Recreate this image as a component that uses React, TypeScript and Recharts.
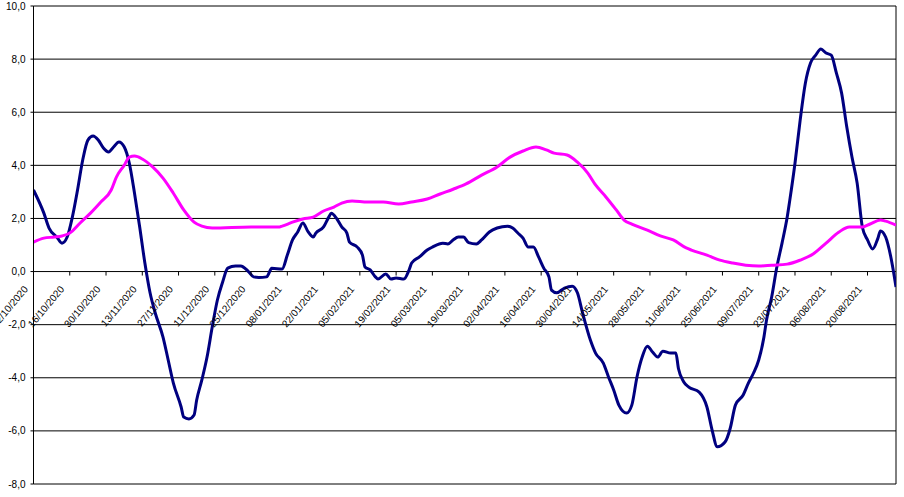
import { LineChart, Line, XAxis, YAxis, CartesianGrid, ReferenceLine } from 'recharts';

// x positions are day offsets from 02/10/2020
const TICK_DAYS = [0, 14, 28, 42, 56, 70, 84, 98, 112, 126, 140, 154, 168, 182, 196, 210, 224, 238, 252, 266, 280, 294, 308, 322];
const TICK_LABELS = [
  '02/10/2020', '16/10/2020', '30/10/2020', '13/11/2020', '27/11/2020', '11/12/2020',
  '25/12/2020', '08/01/2021', '22/01/2021', '05/02/2021', '19/02/2021', '05/03/2021',
  '19/03/2021', '02/04/2021', '16/04/2021', '30/04/2021', '14/05/2021', '28/05/2021',
  '11/06/2021', '25/06/2021', '09/07/2021', '23/07/2021', '06/08/2021', '20/08/2021',
];
const Y_TICKS = [-8, -6, -4, -2, 0, 2, 4, 6, 8, 10];

const NAVY_DAYS = [
  0, 4, 6, 9, 11, 13, 15, 17, 19, 21, 23, 25, 27, 29, 31, 33, 35, 37, 39, 41,
  43, 45, 47, 50, 52, 54, 57, 58, 60, 62, 63, 65, 67, 69, 71, 73, 75, 78, 80, 83,
  85, 87, 90, 92, 96, 98, 100, 102, 104, 106, 108, 109, 112, 114, 115, 117, 119, 121, 122, 125,
  127, 128, 130, 132, 133, 136, 138, 140, 143, 145, 146, 149, 152, 154, 158, 160, 162, 164, 166, 168,
  171, 173, 176, 179, 183, 185, 187, 189, 191, 193, 195, 197, 199, 200, 202, 205, 208, 210, 212, 215,
  217, 220, 222, 224, 226, 229, 231, 233, 235, 237, 239, 241, 243, 246, 248, 249, 251, 253, 257, 260,
  262, 264, 267, 269, 271, 274, 276, 278, 280, 282, 283, 285, 287, 289, 291, 292, 294, 296, 298, 300,
  302, 304, 306, 308, 310, 312, 314, 316, 318, 320, 322, 324, 326, 327, 329, 331, 333,
];
const NAVY_VALUES = [
  3.07, 2.2, 1.64, 1.3, 1.07, 1.3, 2.05, 3.07, 4.2, 4.95, 5.1, 4.95, 4.65, 4.5, 4.7, 4.88, 4.7, 4.08, 2.95, 1.68,
  0.32, -0.8, -1.56, -2.47, -3.33, -4.2, -5.1, -5.48, -5.55, -5.4, -4.84, -4.08, -3.22, -2.09, -1.07, -0.4, 0.13, 0.21, 0.21, 0.0,
  -0.2, -0.22, -0.2, 0.12, 0.1, 0.62, 1.19, 1.49, 1.83, 1.5, 1.3, 1.45, 1.68, 2.05, 2.2, 2.0, 1.68, 1.45, 1.11, 0.92,
  0.62, 0.17, 0.06, -0.2, -0.28, -0.09, -0.28, -0.24, -0.28, 0.06, 0.32, 0.55, 0.81, 0.92, 1.07, 1.04, 1.19, 1.3, 1.3, 1.09,
  1.04, 1.19, 1.49, 1.64, 1.71, 1.64, 1.45, 1.26, 0.92, 0.92, 0.55, 0.13, -0.2, -0.7, -0.8, -0.62, -0.55, -0.8, -1.56, -2.58,
  -3.07, -3.45, -3.97, -4.46, -5.03, -5.33, -5.03, -3.97, -3.22, -2.81, -3.03, -3.22, -3.0, -3.07, -3.07, -3.65, -4.15, -4.35, -4.54, -5.1,
  -5.97, -6.6, -6.42, -5.9, -5.03, -4.65, -4.2, -3.82, -3.33, -2.47, -1.83, -0.96, 0.17, 1.07, 2.05, 2.69, 4.08, 5.7, 7.09, 7.85,
  8.15, 8.38, 8.23, 8.15, 7.47, 6.72, 5.44, 4.31, 3.33, 1.68, 1.19, 0.85, 1.25, 1.53, 1.3, 0.55, -0.58,
];

const PINK_DAYS = [
  0, 4, 8, 11, 14, 18, 22, 26, 30, 32, 35, 37, 39, 42, 46, 50, 54, 58, 62, 65,
  69, 84, 95, 96, 100, 104, 108, 112, 116, 119, 123, 129, 135, 141, 146, 152, 157, 162, 167, 173,
  179, 184, 189, 194, 198, 201, 206, 210, 214, 217, 221, 225, 228, 231, 237, 242, 247, 252, 254, 260,
  265, 270, 275, 280, 285, 291, 296, 301, 306, 311, 315, 320, 323, 327, 329, 333,
];
const PINK_VALUES = [
  1.11, 1.26, 1.3, 1.34, 1.45, 1.83, 2.2, 2.62, 3.07, 3.56, 4.0, 4.31, 4.35, 4.24, 3.94, 3.52, 2.95, 2.32, 1.86, 1.71,
  1.64, 1.68, 1.68, 1.71, 1.86, 1.98, 2.05, 2.28, 2.43, 2.58, 2.66, 2.62, 2.62, 2.54, 2.62, 2.73, 2.92, 3.1, 3.3, 3.63,
  3.94, 4.31, 4.54, 4.69, 4.58, 4.46, 4.39, 4.12, 3.71, 3.26, 2.81, 2.32, 1.94, 1.79, 1.56, 1.34, 1.19, 0.89, 0.81, 0.62,
  0.43, 0.32, 0.24, 0.21, 0.24, 0.28, 0.43, 0.66, 1.07, 1.49, 1.68, 1.68, 1.79, 1.94, 1.9, 1.75,
];

const navyData = NAVY_DAYS.map((day, i) => ({ day, value: NAVY_VALUES[i] }));
const pinkData = PINK_DAYS.map((day, i) => ({ day, value: PINK_VALUES[i] }));

const W = 904;
const H = 497;
const MARGIN = { top: 6, right: 8, bottom: 0, left: 0 };
const Y_AXIS_W = 33.5;
const X_AXIS_H = 13;
const Y_MIN = -8;
const Y_MAX = 10;
const PLOT_H = H - MARGIN.top - MARGIN.bottom - X_AXIS_H;
// the category axis crosses at 0, so tick labels sit under the zero line
const ZERO_Y = MARGIN.top + (PLOT_H * Y_MAX) / (Y_MAX - Y_MIN);
const FONT = '"Liberation Sans", Arial, sans-serif';

const fmtY = (v: number) => v.toFixed(1).replace('.', ',');

function DateTick(props: any) {
  const { x, payload } = props;
  const label = TICK_LABELS[TICK_DAYS.indexOf(payload.value)];
  const tx = x - 5;
  const ty = ZERO_Y + 18;
  return (
    <g>
      <line x1={x} x2={x} y1={ZERO_Y} y2={ZERO_Y + 4} stroke="#000" />
      <text
        x={tx}
        y={ty}
        transform={`rotate(-50 ${tx} ${ty})`}
        textAnchor="end"
        fontSize={10}
        fontFamily={FONT}
        fill="#000"
      >
        {label}
      </text>
    </g>
  );
}

export default function App() {
  return (
    <div style={{ width: W, height: H, background: '#fff' }}>
      <style>{'body { margin: 0; }'}</style>
      <LineChart width={W} height={H} margin={MARGIN}>
        <CartesianGrid vertical={false} stroke="#000" strokeWidth={1} />
        <XAxis
          type="number"
          dataKey="day"
          domain={[0, 333]}
          ticks={TICK_DAYS}
          interval={0}
          height={X_AXIS_H}
          axisLine={false}
          tickLine={false}
          tick={<DateTick />}
          allowDataOverflow
        />
        <YAxis
          type="number"
          domain={[Y_MIN, Y_MAX]}
          ticks={Y_TICKS}
          interval={0}
          width={Y_AXIS_W}
          tickFormatter={fmtY}
          tickSize={3}
          tickMargin={5}
          axisLine={{ stroke: '#000' }}
          tickLine={{ stroke: '#000' }}
          tick={{ fill: '#000', fontSize: 10, fontFamily: FONT }}
        />
        <ReferenceLine x={333} stroke="#000" />
        <Line
          data={navyData}
          dataKey="value"
          type="monotone"
          stroke="#000080"
          strokeWidth={3}
          dot={false}
          isAnimationActive={false}
        />
        <Line
          data={pinkData}
          dataKey="value"
          type="monotone"
          stroke="#FF00FF"
          strokeWidth={3}
          dot={false}
          isAnimationActive={false}
        />
      </LineChart>
    </div>
  );
}
